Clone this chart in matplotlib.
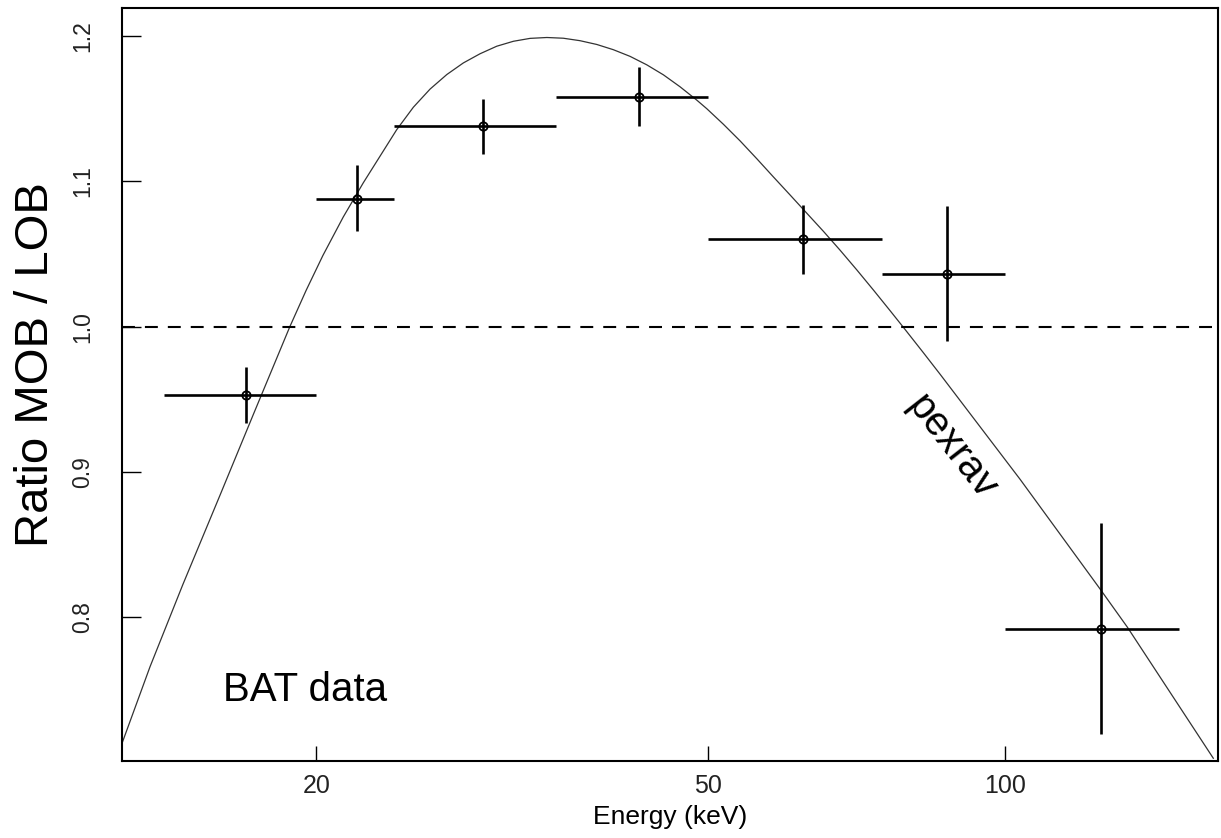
import matplotlib
matplotlib.use("Agg")
import matplotlib.pyplot as plt

plt.rcParams['font.family'] = ['Liberation Sans', 'DejaVu Sans']

# BAT energy bins (keV) and ratio MOB / LOB
e_lo = [14, 20, 24, 35, 50, 75, 100]
e_hi = [20, 24, 35, 50, 75, 100, 150]
e_mid = [16.97, 21.98, 29.5, 42.5, 62.4, 87.3, 125.2]
ratio = [0.953, 1.088, 1.138, 1.158, 1.060, 1.036, 0.792]
ratio_hi = [0.9725, 1.111, 1.157, 1.179, 1.084, 1.083, 0.865]
ratio_lo = [0.934, 1.066, 1.119, 1.138, 1.036, 0.990, 0.720]

# pexrav model curve
model_e = [12.72, 13.56, 14.64, 15.98, 17.26, 18.80, 19.53, 20.31, 21.30, 22.32,
           24.13, 25.09, 26.09, 27.13, 28.20, 29.32, 30.49, 31.70, 32.96, 34.28,
           35.62, 37.04, 38.52, 40.04, 41.64, 43.29, 45.01, 46.79, 48.66, 49.81,
           51.78, 53.85, 56.00, 58.21, 60.54, 62.94, 65.44, 68.04, 70.74, 73.55,
           76.47, 78.89, 82.67, 85.96, 103.6, 124.9, 133.1, 162.7]
model_r = [0.7145, 0.7660, 0.8225, 0.8845, 0.9395, 1.0000, 1.0250, 1.0490, 1.0755, 1.0990,
           1.1355, 1.1510, 1.1635, 1.1735, 1.1815, 1.1878, 1.1930, 1.1964, 1.1984, 1.1990,
           1.1985, 1.1968, 1.1942, 1.1906, 1.1860, 1.1802, 1.1733, 1.1651, 1.1559, 1.1500,
           1.1393, 1.1278, 1.1155, 1.1030, 1.0905, 1.0780, 1.0655, 1.0525, 1.0390, 1.0251,
           1.0109, 0.9994, 0.9819, 0.9671, 0.8949, 0.8194, 0.7932, 0.7030]

fig = plt.figure(figsize=(12.21, 8.38), dpi=100)
ax = fig.add_axes([122 / 1221, 1 - 761 / 838, (1218 - 122) / 1221, (761 - 8) / 838])

ax.plot(model_e, model_r, color='#333333', lw=0.9)
ax.axhline(1.0, color='black', lw=1.5, linestyle=(0, (6.2, 4.8)))

xerr = [[m - l for m, l in zip(e_mid, e_lo)], [h - m for m, h in zip(e_mid, e_hi)]]
yerr = [[r - l for r, l in zip(ratio, ratio_lo)], [h - r for r, h in zip(ratio, ratio_hi)]]
ax.errorbar(e_mid, ratio, xerr=xerr, yerr=yerr, fmt='o', color='black',
            mfc='none', mec='black', ms=6, mew=1.3, elinewidth=1.9, capsize=0)

ax.set_xscale('log')
ax.set_xlim(12.70, 164.5)
ax.set_ylim(0.7011, 1.2193)
ax.set_xticks([20, 50, 100])
ax.set_xticklabels(['20', '50', '100'])
ax.minorticks_off()
ax.set_yticks([0.8, 0.9, 1.0, 1.1, 1.2])
ax.set_yticklabels(['0.8', '0.9', '1.0', '1.1', '1.2'])
ax.tick_params(axis='x', direction='in', length=11, width=1, pad=9.4,
               labelsize=18, labelcolor='#222222')
ax.tick_params(axis='y', direction='in', length=14, width=1, pad=20,
               labelsize=16.5, labelcolor='#222222', labelrotation=90)
for t in ax.get_yticklabels():
    t.set_va('center')
for s in ax.spines.values():
    s.set_linewidth(1.5)

ax.set_xlabel('Energy (keV)', fontsize=19, labelpad=5)
fig.text(36 / 1221, 1 - 364.5 / 838, 'Ratio MOB / LOB', rotation=90,
         ha='center', va='center', fontsize=34)

ax.text(16.07, 0.7424, 'BAT data', fontsize=29, ha='left', va='baseline')
ax.text(88.3, 0.9174, 'pexrav', fontsize=29, rotation=-52,
        ha='center', va='center', rotation_mode='anchor')

fig.savefig('out.png', dpi=100)
